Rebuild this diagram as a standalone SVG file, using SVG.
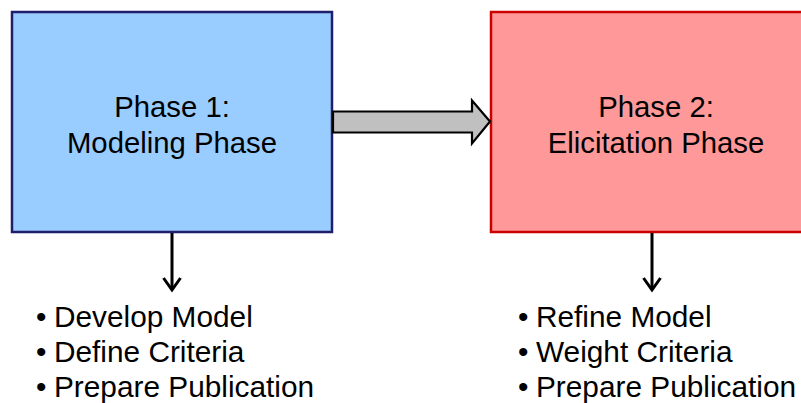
<svg xmlns="http://www.w3.org/2000/svg" width="801" height="403" viewBox="0 0 801 403">
<style>
  .lbl{font-family:"Liberation Sans",Arial,sans-serif;font-size:29.3px;fill:#000;text-anchor:middle}
  .bul{font-family:"Liberation Sans",Arial,sans-serif;font-size:29.8px;fill:#000}
  .down{stroke:#000;stroke-width:3;fill:none}
</style>
<rect width="801" height="403" fill="#fff"/>
<g id="phase1">
  <rect x="12" y="12" width="320" height="220" fill="#99ccff" stroke="#1f1f6b" stroke-width="2.5"/>
  <text class="lbl" x="172" y="117">Phase 1:</text>
  <text class="lbl" x="172" y="153">Modeling Phase</text>
</g>
<g id="phase2">
  <rect x="491" y="12" width="340" height="220" fill="#ff9999" stroke="#cc0000" stroke-width="2.5"/>
  <text class="lbl" x="656" y="117">Phase 2:</text>
  <text class="lbl" x="656" y="153">Elicitation Phase</text>
</g>
<g id="list1">
  <text class="bul" x="36" y="327">•</text><text class="bul" x="54" y="327">Develop Model</text>
  <text class="bul" x="36" y="362">•</text><text class="bul" x="54" y="362">Define Criteria</text>
  <text class="bul" x="36" y="397">•</text><text class="bul" x="54" y="397">Prepare Publication</text>
</g>
<g id="list2">
  <text class="bul" x="518" y="327">•</text><text class="bul" x="536" y="327">Refine Model</text>
  <text class="bul" x="518" y="362">•</text><text class="bul" x="536" y="362">Weight Criteria</text>
  <text class="bul" x="518" y="397">•</text><text class="bul" x="536" y="397">Prepare Publication</text>
</g>
<g id="connectors">
  <path d="M333,111.5 H472 V100.5 L490,121.5 L472,143.5 V132.5 H333 Z" fill="#c0c0c0" stroke="#000" stroke-width="2.2" stroke-linejoin="miter"/>
  <path class="down" d="M172,233 V290"/>
  <path class="down" d="M163.5,278 L172,290 L180.5,278"/>
  <path class="down" d="M652,233 V290"/>
  <path class="down" d="M643.5,278 L652,290 L660.5,278"/>
</g>
</svg>
